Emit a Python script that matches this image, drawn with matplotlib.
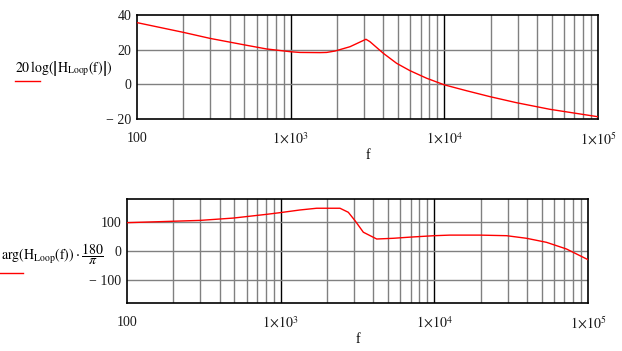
import matplotlib
matplotlib.use('Agg')
import matplotlib.pyplot as plt
from matplotlib.ticker import FixedLocator, FixedFormatter, NullFormatter
import numpy as np

plt.rcParams['font.family'] = 'Liberation Serif'
plt.rcParams['mathtext.fontset'] = 'stix'

# magnitude, dB
mag_f = [100, 200, 299, 504, 698, 1000, 1148, 1550, 1715, 1941, 2432, 3090, 3281,
         4009, 4898, 5970, 7676, 10000, 13960, 19800, 29500, 48600, 100000]
mag_db = [35.6, 30.0, 26.5, 22.7, 20.4, 18.8, 18.4, 18.3, 18.4, 19.2, 21.7, 26.0, 24.6,
          17.9, 12.1, 7.9, 3.5, -0.3, -3.7, -7.1, -10.6, -14.4, -18.7]

# phase, degrees
ph_f = [100, 200, 300, 492, 812, 1000, 1335, 1715, 2432, 2755, 3047, 3451, 4217,
        5408, 6940, 10000, 12620, 19770, 29500, 39800, 53700, 72400, 100000]
ph_deg = [98, 103, 106, 114, 127, 133, 142, 148, 148, 134, 105, 65, 41.5,
          44, 48, 53, 55, 55, 53, 44, 30, 7, -30]

x_ticks = [100, 1e3, 1e4, 1e5]
x_labels = ['100', r'$1\!\times\!10^{3}$', r'$1\!\times\!10^{4}$', r'$1\!\times\!10^{5}$']
mag_ticks = [-20, 0, 20, 40]
mag_labels = ['\u2212 20', '0', '20', '40']
ph_ticks = [-100, 0, 100]
ph_labels = ['\u2212 100', '0', '100']

fig = plt.figure(figsize=(6.22, 3.51), dpi=100)
ax1 = fig.add_axes([137 / 622, 1 - 119 / 351, 461 / 622, 104 / 351])
ax2 = fig.add_axes([127 / 622, 1 - 303 / 351, 461 / 622, 104 / 351])

minor = [m * 10 ** d for d in range(2, 5) for m in range(2, 10)]


def style(ax, yticks, ylabels, ylim):
    ax.set_xscale('log')
    ax.set_xlim(100, 1e5)
    ax.set_ylim(*ylim)
    ax.xaxis.set_major_locator(FixedLocator(x_ticks))
    ax.xaxis.set_major_formatter(FixedFormatter(x_labels))
    ax.xaxis.set_minor_locator(FixedLocator(minor))
    ax.xaxis.set_minor_formatter(NullFormatter())
    ax.yaxis.set_major_locator(FixedLocator(yticks))
    ax.yaxis.set_major_formatter(FixedFormatter(ylabels))
    for xv in minor:
        ax.axvline(xv, color='#808080', lw=1, zorder=1)
    for xv in [1e3, 1e4]:
        ax.axvline(xv, color='black', lw=1, zorder=1)
    for yv in yticks:
        if ylim[0] < yv < ylim[1]:
            ax.axhline(yv, color='#808080', lw=1, zorder=1)
    ax.tick_params(which='both', length=0, labelsize=10, colors='#1a1a1a')
    ax.tick_params(axis='x', pad=9)
    ax.tick_params(axis='y', pad=4)
    for s in ax.spines.values():
        s.set_color('black')
        s.set_linewidth(1.2)
    ax.set_xlabel('f', fontsize=10, labelpad=1)


style(ax1, mag_ticks, mag_labels, (-20, 40))
style(ax2, ph_ticks, ph_labels, (-180, 180))

ax1.plot(mag_f, mag_db, color='red', lw=1, zorder=3)
ax2.plot(ph_f, ph_deg, color='red', lw=1, zorder=3)

fig.text(15 / 622, 1 - 68 / 351,
         r'$20\,\mathrm{log}\left(\left|\mathrm{H}_{\mathrm{Loop}}(\mathrm{f})\right|\right)$',
         fontsize=10, va='center', ha='left')
fig.add_artist(plt.Line2D([15 / 622, 40 / 622], [1 - 81 / 351, 1 - 81 / 351],
                          color='red', lw=1))
fig.text(1 / 622, 1 - 254 / 351,
         r'$\mathrm{arg}\left(\mathrm{H}_{\mathrm{Loop}}(\mathrm{f})\right)\cdot\dfrac{180}{\pi}$',
         fontsize=10, va='center', ha='left')
fig.add_artist(plt.Line2D([0, 23 / 622], [1 - 273 / 351, 1 - 273 / 351],
                          color='red', lw=1))

fig.savefig('out.png', dpi=100)
